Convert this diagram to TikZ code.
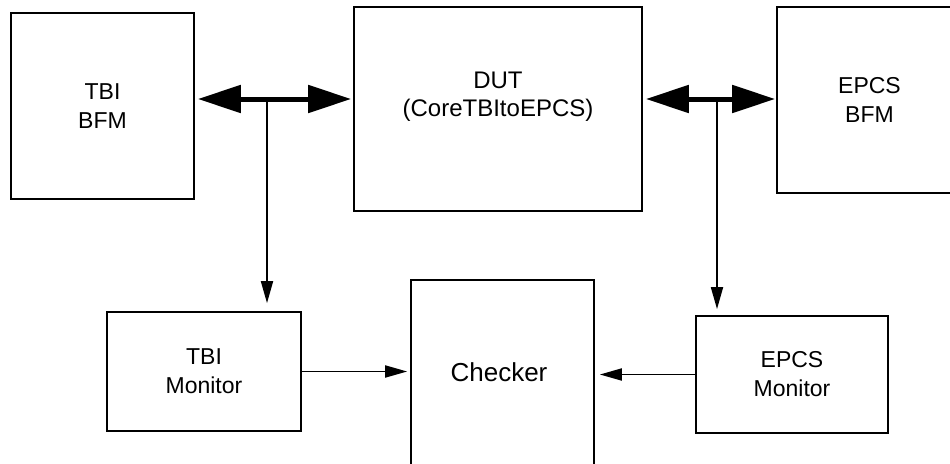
\documentclass[tikz,border=0pt]{standalone}
\usepackage{fontspec}
\setmainfont{Liberation Sans}
\usetikzlibrary{arrows.meta}
\begin{document}
\begin{tikzpicture}[x=1pt,y=-1pt,
  block/.style={draw, line width=1.7pt, rectangle, inner sep=0pt, align=center},
  txt/.style={font=\fontsize{23}{29}\selectfont},
  bus/.style={line width=5pt, {Triangle[length=43pt,width=27pt]}-{Triangle[length=43pt,width=27pt]}},
  sig/.style={line width=1.8pt, -{Triangle[length=22pt,width=12pt]}}]
  \useasboundingbox (0,0) rectangle (950,463);
  \clip (0,0) rectangle (950,463);
  \fill[white] (0,0) rectangle (950,463);

  % upper row
  \node[block, txt, minimum width=183pt, minimum height=186pt] (tbibfm) at (102.5,106) {TBI\\BFM};
  \node[block, minimum width=288pt, minimum height=204pt] (dut) at (498,109) {};
  \node[txt, font=\fontsize{24}{28}\selectfont, align=center] (dutlabel) at (498,97) {DUT\\(CoreTBItoEPCS)};
  \node[block, txt, minimum width=185pt, minimum height=186pt] (epcsbfm) at (869.5,100) {EPCS\\BFM};

  % lower row
  \node[block, txt, minimum width=194pt, minimum height=119pt] (tbimon) at (204,371.5) {TBI\\Monitor};
  \node[block, minimum width=183pt, minimum height=195pt] (checker) at (502.5,377.5) {};
  \node[font=\fontsize{26}{30}\selectfont] (checkerlabel) at (499,372) {Checker};
  \node[block, txt, minimum width=192pt, minimum height=117pt] (epcsmon) at (792,374.5) {EPCS\\Monitor};

  % taps on the two buses
  \coordinate (tapL) at (267,99);
  \coordinate (tapR) at (717,99);

  % bidirectional buses
  \draw[bus, shorten <=3pt, shorten >=2pt] (tbibfm.east |- tapL) -- (dut.west |- tapL);
  \draw[bus, shorten <=3pt, shorten >=1pt] (dut.east |- tapR) -- (epcsbfm.west |- tapR);

  % monitor taps
  \draw[sig, shorten >=8pt] (tapL) -- (tbimon.north -| tapL);
  \draw[sig, shorten >=6pt] (tapR) -- (epcsmon.north -| tapR);

  % monitors to checker
  \draw[sig, shorten >=3pt] (tbimon.east) -- (checker.west |- tbimon.east);
  \draw[sig, shorten >=5pt] (epcsmon.west) -- (checker.east |- epcsmon.west);
\end{tikzpicture}
\end{document}
